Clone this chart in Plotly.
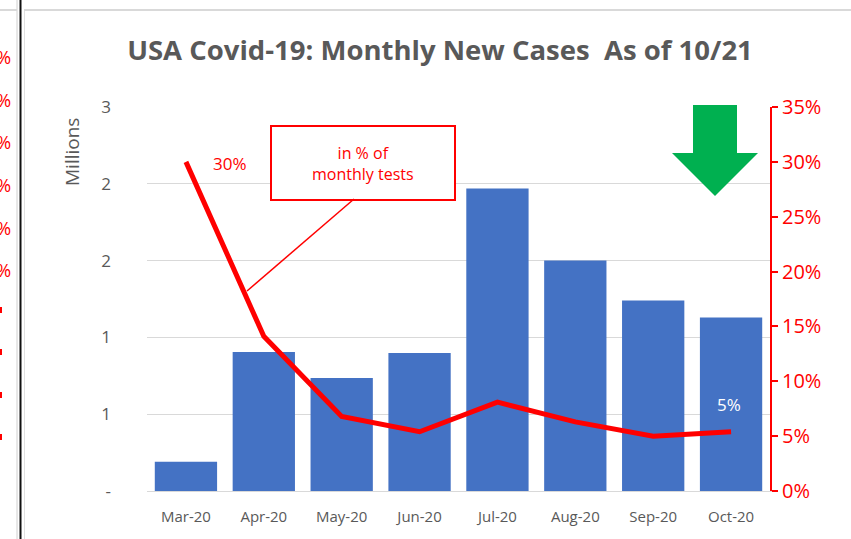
import plotly.graph_objects as go

months = ["Mar-20", "Apr-20", "May-20", "Jun-20", "Jul-20", "Aug-20", "Sep-20", "Oct-20"]
new_cases_m = [0.19, 0.905, 0.736, 0.898, 1.97, 1.50, 1.24, 1.13]
pct_positive = [0.300, 0.141, 0.068, 0.054, 0.081, 0.063, 0.050, 0.054]
left_tickvals = [0, 0.5, 1.0, 1.5, 2.0, 2.5]
left_ticktext = ["-", "1", "1", "2", "2", "3"]

W, H = 851, 539
L, R, T, B = 147, 770, 107, 491

def px(x):
    return (x - L) / (R - L)

def py(y):
    return (B - y) / (B - T)

GRAY = "#595959"
RED = "#FF0000"
FONT = "Open Sans"

fig = go.Figure()
fig.add_trace(go.Bar(x=months, y=new_cases_m, marker_color="#4472C4",
                     marker_line_width=0, width=0.8, yaxis="y", showlegend=False))
fig.add_trace(go.Scatter(x=months, y=pct_positive, mode="lines",
                         line=dict(color=RED, width=5), yaxis="y2", showlegend=False))

shapes = []
# callout box and leader
shapes.append(dict(type="rect", xref="paper", yref="paper", x0=px(271), x1=px(455),
                   y0=py(200), y1=py(126), line=dict(color=RED, width=2), fillcolor="white", layer="above"))
shapes.append(dict(type="line", xref="paper", yref="paper", x0=px(354), y0=py(199),
                   x1=px(247), y1=py(291), line=dict(color=RED, width=1.5)))
# green arrow
pts = [(693, 105), (737, 105), (737, 153), (758, 153), (715, 196), (672, 153), (693, 153)]
path = "M " + " L ".join(f"{px(a):.5f},{py(b):.5f}" for a, b in pts) + " Z"
shapes.append(dict(type="path", xref="paper", yref="paper", path=path,
                   fillcolor="#00B050", line=dict(width=0)))
# frame artifacts at left
shapes.append(dict(type="line", xref="paper", yref="paper", x0=px(17), x1=px(17), y0=py(0), y1=py(539),
                   line=dict(color="#d0d0d0", width=1)))
shapes.append(dict(type="line", xref="paper", yref="paper", x0=px(20.5), x1=px(20.5), y0=py(0), y1=py(539),
                   line=dict(color="#111111", width=2)))
shapes.append(dict(type="line", xref="paper", yref="paper", x0=px(24.5), x1=px(24.5), y0=py(10), y1=py(539),
                   line=dict(color="#e0e0e0", width=1)))
shapes.append(dict(type="line", xref="paper", yref="paper", x0=px(24), x1=px(851), y0=py(10), y1=py(10),
                   line=dict(color="#d9d9d9", width=2)))
shapes.append(dict(type="line", xref="paper", yref="paper", x0=px(0), x1=px(17), y0=py(10), y1=py(10),
                   line=dict(color="#d9d9d9", width=2)))
for yy in [310, 352, 395, 437]:
    shapes.append(dict(type="rect", xref="paper", yref="paper", x0=px(0), x1=px(2),
                       y0=py(yy + 3), y1=py(yy - 3), fillcolor=RED, line=dict(width=0)))

annotations = []
annotations.append(dict(text="in % of<br>monthly tests", xref="paper", yref="paper",
                        x=px(363), y=py(163), xanchor="center", yanchor="middle", showarrow=False,
                        font=dict(family=FONT, size=16, color=RED)))
annotations.append(dict(text="30%", x=months[0], y=pct_positive[0], xref="x", yref="y2",
                        xshift=44, yshift=-2, showarrow=False,
                        font=dict(family=FONT, size=17, color=RED)))
annotations.append(dict(text="5%", x=months[-1], y=pct_positive[-1], xref="x", yref="y2",
                        xshift=-2, yshift=27, showarrow=False,
                        font=dict(family=FONT, size=17, color="white")))
annotations.append(dict(text="Millions", xref="paper", yref="paper", x=px(72), y=py(152),
                        xanchor="center", yanchor="middle",
                        textangle=-90, showarrow=False,
                        font=dict(family=FONT, size=19, color=GRAY)))
for yy in [57, 100, 142, 185, 228, 270]:
    annotations.append(dict(text="5%", xref="paper", yref="paper", x=px(13), y=py(yy),
                            xanchor="right", yanchor="middle", showarrow=False,
                            font=dict(family=FONT, size=18, color=RED)))

fig.update_layout(
    width=W, height=H,
    margin=dict(l=L, r=W - R, t=T, b=H - B),
    paper_bgcolor="white", plot_bgcolor="white",
    title=dict(text="<b>USA Covid-19: Monthly New Cases  As of 10/21</b>", xref="container",
               x=440 / W, xanchor="center",
               y=1 - 50 / H, yanchor="middle",
               font=dict(family=FONT, size=27.5, color=GRAY)),
    bargap=0.2,
    xaxis=dict(tickfont=dict(family=FONT, size=15, color=GRAY), showline=True,
               linecolor="#d9d9d9", linewidth=1, ticks="", showgrid=False,
               ticklabelstandoff=12),
    yaxis=dict(range=[0, 2.5], tickvals=left_tickvals, ticktext=left_ticktext,
               tickfont=dict(family=FONT, size=17, color=GRAY), showgrid=True,
               gridcolor="#d9d9d9", gridwidth=1, zeroline=False, showline=False, ticks="",
               ticklabelstandoff=35),
    yaxis2=dict(range=[0, 0.35], dtick=0.05, tickformat=".0%", overlaying="y", side="right",
                showgrid=False, zeroline=False, showline=True, linecolor=RED, linewidth=2,
                ticks="outside", ticklen=6, tickcolor=RED, tickwidth=2,
                tickfont=dict(family=FONT, size=20, color=RED)),
    shapes=shapes, annotations=annotations,
)

fig.write_html("out.html", config={"displayModeBar": False},
               post_script="document.body.style.margin='0';")
